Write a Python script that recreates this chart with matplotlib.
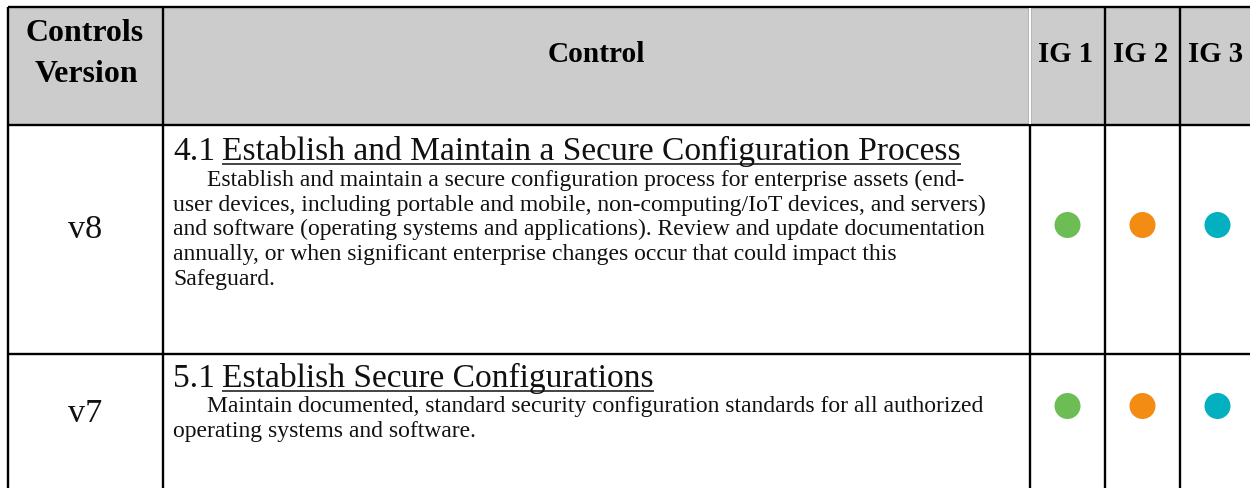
import matplotlib
matplotlib.use("Agg")
import matplotlib.pyplot as plt
from matplotlib.patches import Rectangle, Circle

# ---------------- data ----------------
header_version = ["Controls", "Version"]
header_control = "Control"
ig_labels = ["IG 1", "IG 2", "IG 3"]
versions = ["v8", "v7"]
control_ids = ["4.1", "5.1"]
control_titles = ["Establish and Maintain a Secure Configuration Process",
                  "Establish Secure Configurations"]
control_desc = [
    ["Establish and maintain a secure configuration process for enterprise assets (end-",
     "user devices, including portable and mobile, non-computing/IoT devices, and servers)",
     "and software (operating systems and applications). Review and update documentation",
     "annually, or when significant enterprise changes occur that could impact this",
     "Safeguard."],
    ["Maintain documented, standard security configuration standards for all authorized",
     "operating systems and software."],
]
ig_membership = [[True, True, True], [True, True, True]]
ig_colors = ["#6CBE54", "#F28C12", "#02B0BF"]

# ---------------- layout ----------------
W, H = 1250, 489
fig = plt.figure(figsize=(W / 100, H / 100), dpi=100)
ax = fig.add_axes([0, 0, 1, 1])
ax.set_xlim(0, W)
ax.set_ylim(H, 0)
ax.axis("off")

col_x = [7.5, 163, 1030, 1105, 1180, 1255]
row_y = [7.5, 126, 355, 495]
row_dot_y = [226, 407]
lw = 1.7
serif = ["Liberation Serif", "DejaVu Serif"]
txt_col = "#111111"

fig.canvas.draw()
renderer = fig.canvas.get_renderer()


def fit_size(s, target_w, weight="normal", base=20):
    t = ax.text(0, 0, s, fontsize=base, family=serif, weight=weight)
    w = t.get_window_extent(renderer).width
    t.remove()
    return base * target_w / w


# header background
ax.add_patch(Rectangle((col_x[0], row_y[0]), W - col_x[0], row_y[1] - row_y[0],
                       facecolor="#CCCCCC", edgecolor="none", zorder=0))

# header texts
hsize = fit_size("Controls", 118, "bold")
ax.text(85, 41, header_version[0], fontsize=hsize, family=serif, weight="bold",
        ha="center", va="baseline", color="black")
ax.text(86, 82, header_version[1], fontsize=hsize, family=serif, weight="bold",
        ha="center", va="baseline", color="black")
csize = fit_size(header_control, 97, "bold")
ax.text((col_x[1] + col_x[2]) / 2, 62, header_control, fontsize=csize, family=serif,
        weight="bold", ha="center", va="baseline", color="black")
igsize = fit_size(ig_labels[0], 55, "bold")
for i, lab in enumerate(ig_labels):
    cx = (col_x[2 + i] + col_x[3 + i]) / 2
    ax.text(cx - 2, 62, lab, fontsize=igsize, family=serif, weight="bold",
            ha="center", va="baseline", color="black")

# body sizes
title_size = fit_size(control_titles[0], 740)
body_size = fit_size(control_desc[0][1], 814)
ver_size = fit_size("v8", 34)

title_base = [160, 387]
desc_base0 = [186, 412]
line_h = 24.7
ver_base = [238, 422]

inv = ax.transData.inverted()
for r in range(len(versions)):
    ax.text(85, ver_base[r], versions[r], fontsize=ver_size, family=serif,
            ha="center", va="baseline", color=txt_col)
    ax.text(173, title_base[r], control_ids[r], fontsize=title_size, family=serif,
            ha="left", va="baseline", color=txt_col)
    t = ax.text(222, title_base[r], control_titles[r], fontsize=title_size, family=serif,
                ha="left", va="baseline", color=txt_col)
    bb = t.get_window_extent(renderer)
    x0 = inv.transform((bb.x0, 0))[0]
    x1 = inv.transform((bb.x1, 0))[0]
    ax.plot([x0, x1], [title_base[r] + 4.5, title_base[r] + 4.5], color=txt_col, lw=1.1,
            solid_capstyle="butt")
    for j, line in enumerate(control_desc[r]):
        x = 207 if j == 0 else 173
        ax.text(x, desc_base0[r] + j * line_h, line, fontsize=body_size, family=serif,
                ha="left", va="baseline", color=txt_col)
    for k in range(3):
        if ig_membership[r][k]:
            cx = (col_x[2 + k] + col_x[3 + k]) / 2
            ax.add_patch(Circle((cx, row_dot_y[r]), 13, facecolor=ig_colors[k],
                                edgecolor="none", zorder=3))

# grid lines
ax.plot([col_x[0], W], [row_y[0], row_y[0]], color="black", lw=lw, solid_capstyle="butt")
for y in row_y[1:3]:
    ax.plot([col_x[0], W], [y, y], color="black", lw=lw, solid_capstyle="butt")
for i, x in enumerate(col_x[:5]):
    ax.plot([x, x], [row_y[0], H], color="black", lw=lw, solid_capstyle="butt")
# white separator in header at control / IG boundary
ax.plot([col_x[2], col_x[2]], [row_y[0] + 1.5, row_y[1] - 1.5], color="white", lw=lw,
        solid_capstyle="butt", zorder=4)

fig.savefig("out.png", dpi=100)
